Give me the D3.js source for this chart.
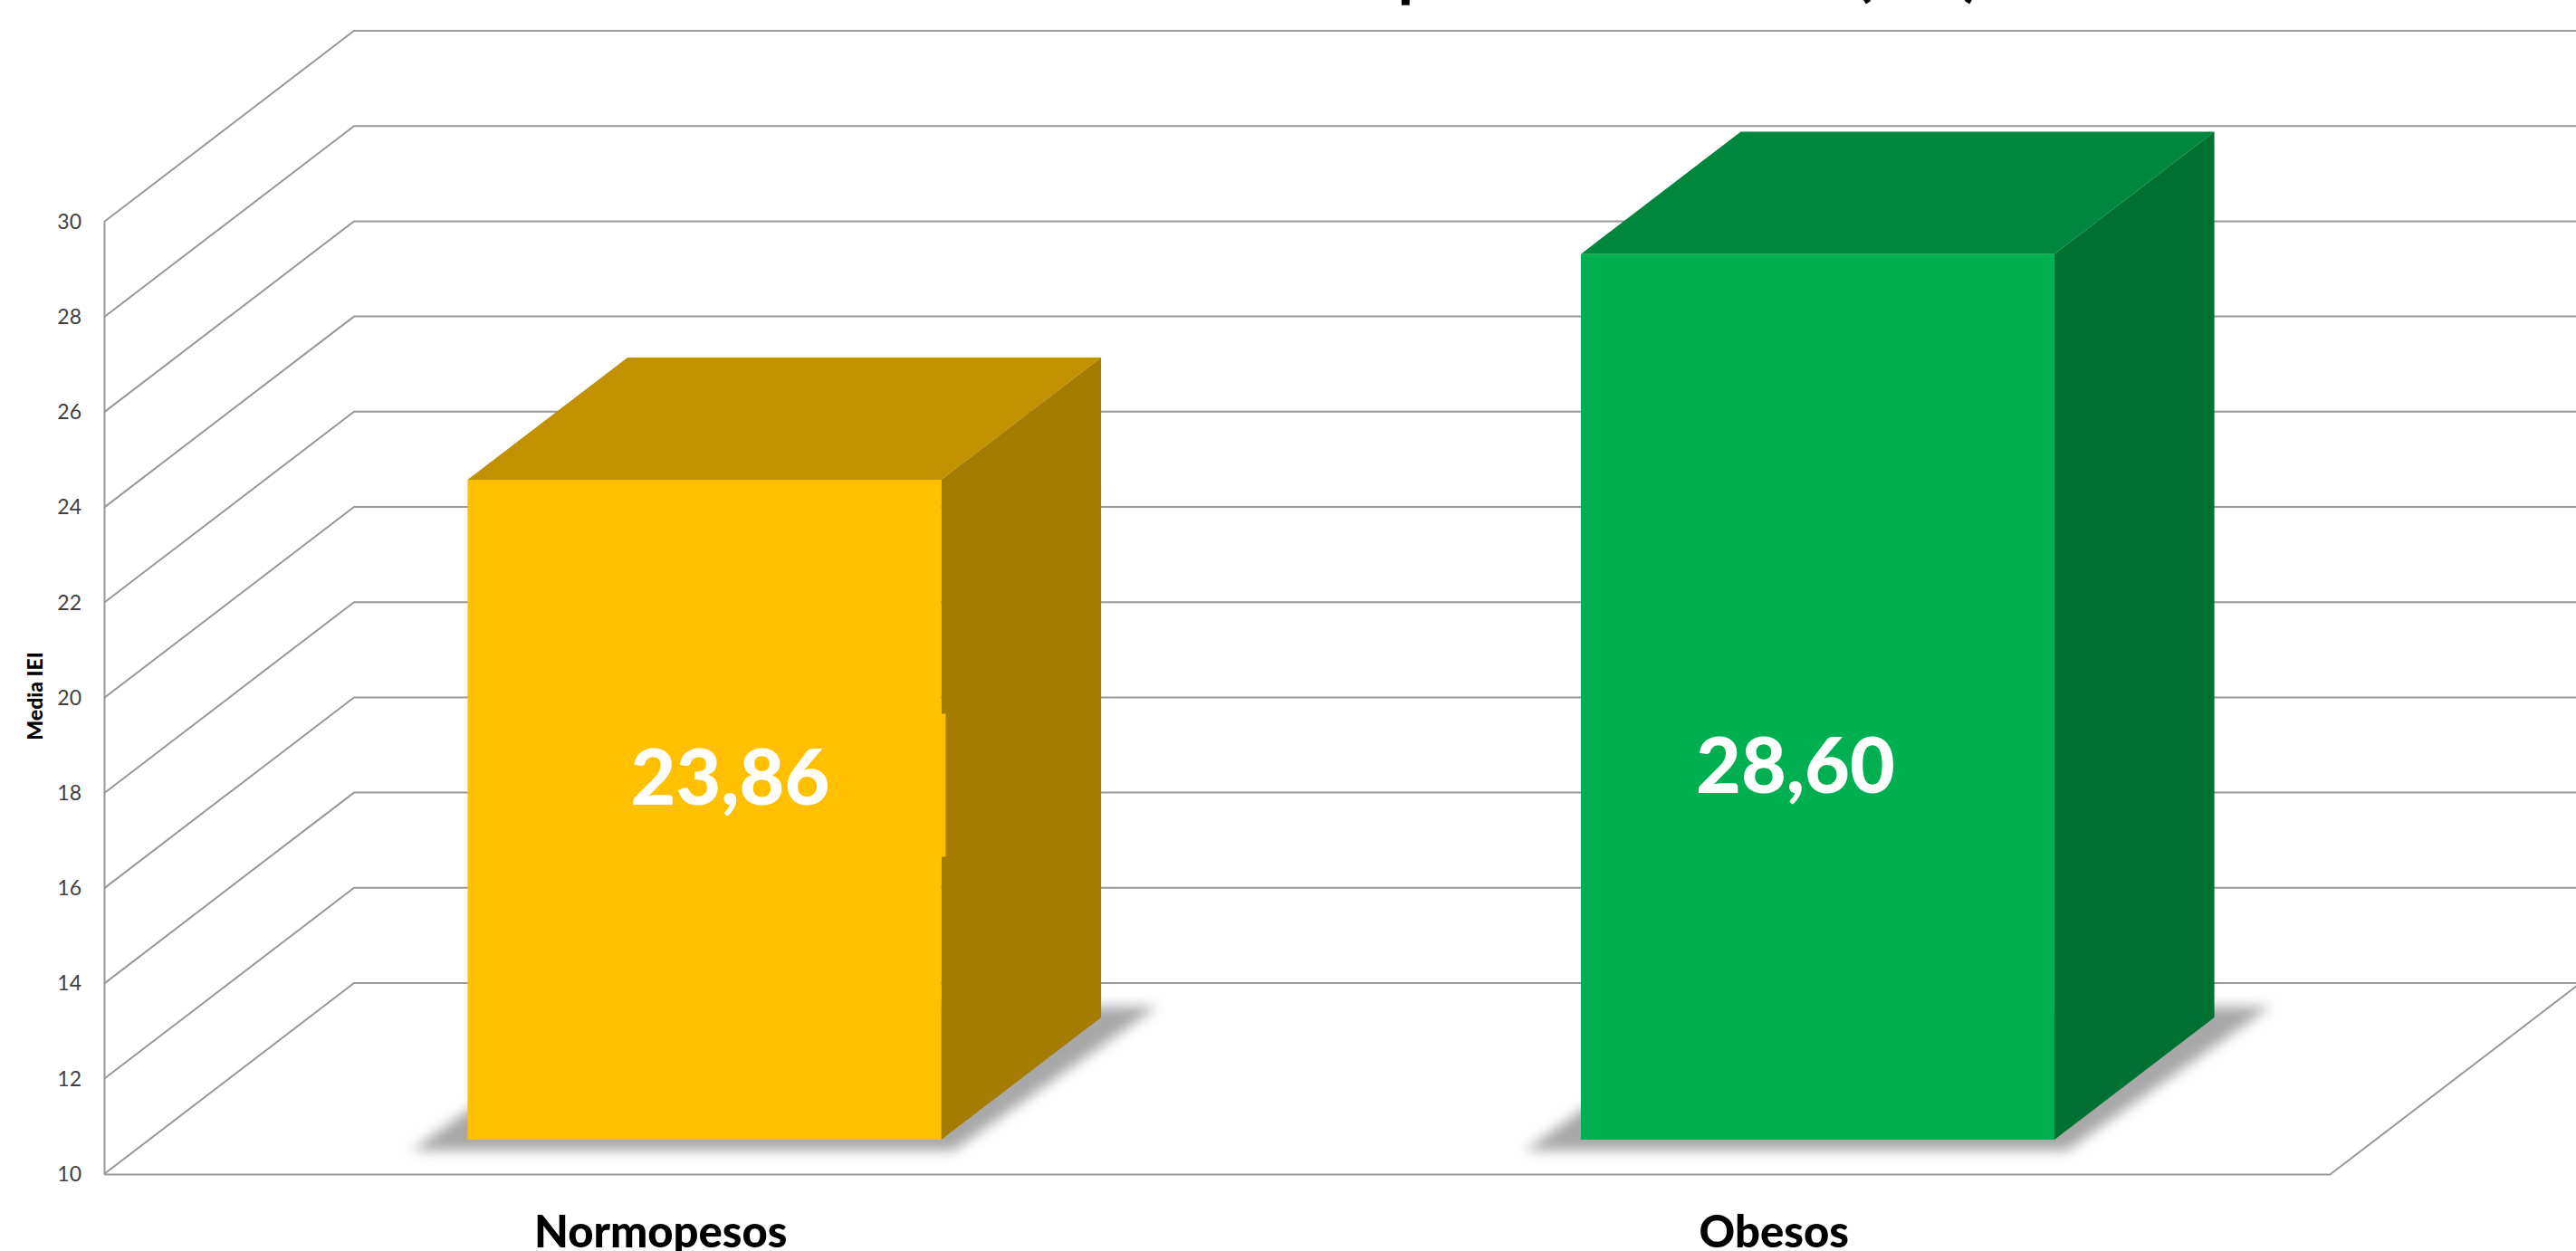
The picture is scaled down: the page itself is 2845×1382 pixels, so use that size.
<!DOCTYPE html>
<html lang="es">
<head>
<meta charset="utf-8">
<title>Media IEI</title>
<script src="https://cdn.jsdelivr.net/npm/d3@7"></script>
<style>
  html, body { margin: 0; background: #fff; overflow: hidden; }
  svg { display: block; }
  text { font-family: Lato, Carlito, sans-serif; }
</style>
</head>
<body>
<div id="chart-container"></div>
<script>
const categories = ['Normopesos', 'Obesos']
const values = [23.86, 28.6]
const valueLabels = ['23,86', '28,60']
const yTicks = [10, 12, 14, 16, 18, 20, 22, 24, 26, 28, 30]
const yTitle = 'Media IEI'

const chartWidth = 2845
const chartHeight = 1382
const plot = { left: 115, right: 2574, top: 245, bottom: 1297 }
const wallOffset = { x: 276, y: -211 }
const barDepth = { front: 0.18, back: 0.82 }
const barNudge = -1.5

const barFill = ['#ffc000', '#00b050']
const barTop = ['#c29100', '#00863d']
const barSide = ['#a47c00', '#007033']
const gridColor = '#989898'

// where the data labels were dragged to, relative to the middle of the bar front
const labelShift = [{ x: 27, y: -6 }, { x: -26, y: 106 }]

// how far the shadow sticks out past each floor corner of a bar
const shadowSpread = [[-62, 12], [14, 12], [62, -12], [-14, -12]]

const xScale = d3
  .scaleBand()
  .domain(categories)
  .range([plot.left, plot.right])
  .paddingInner(0.5746)
  .paddingOuter(0.2873)

const yScale = d3.scaleLinear().domain([10, 30]).range([plot.bottom, plot.top])

// front plane coordinates -> picture coordinates, depth 0 is front, 1 is the back wall
const project = (x, y, depth) => [x + depth * wallOffset.x, y + depth * wallOffset.y]

const toPoints = points => points.map(p => p.join(',')).join(' ')

const svg = d3
  .select('#chart-container')
  .append('svg')
  .attr('width', chartWidth)
  .attr('height', chartHeight)

const blur = svg.append('defs').append('filter').attr('id', 'shadow-blur')
  .attr('x', '-20%').attr('y', '-20%').attr('width', '140%').attr('height', '140%')
blur.append('feGaussianBlur').attr('stdDeviation', 7)

const drawGrid = () => {
  const grid = svg.append('g').attr('fill', 'none').attr('stroke', gridColor).attr('stroke-width', 2)

  grid
    .selectAll('polyline')
    .data(yTicks)
    .enter()
    .append('polyline')
    .attr('points', d => {
      const y = yScale(d)
      const corner = project(plot.left, y, 1)
      return toPoints([[plot.left, y], corner, [chartWidth, corner[1]]])
    })

  // right edge of the floor
  grid
    .append('line')
    .attr('x1', plot.right)
    .attr('y1', plot.bottom)
    .attr('x2', plot.right + wallOffset.x)
    .attr('y2', plot.bottom + wallOffset.y)
}

const drawAxes = () => {
  const yAxis = svg
    .append('g')
    .attr('transform', `translate(${plot.left},0)`)
    .call(d3.axisLeft(yScale).tickValues(yTicks).tickSize(0).tickPadding(25))

  yAxis.select('.domain').attr('stroke', gridColor).attr('stroke-width', 2)
  yAxis.selectAll('text').attr('font-size', 23).attr('font-family', 'Lato').attr('fill', '#404040')

  const xAxis = svg
    .append('g')
    .attr('transform', `translate(0,${plot.bottom})`)
    .call(d3.axisBottom(xScale).tickSize(0))

  xAxis.select('.domain').attr('stroke', gridColor).attr('stroke-width', 2)
  xAxis
    .selectAll('text')
    .attr('y', 81)
    .attr('dy', 0)
    .attr('font-size', 49)
    .attr('font-weight', 900)
    .attr('font-family', 'Lato')
    .attr('fill', '#000')

  svg
    .append('text')
    .attr('transform', 'translate(47,769) rotate(-90)')
    .attr('text-anchor', 'middle')
    .attr('font-size', 23)
    .attr('font-weight', 900)
    .text(yTitle)
}

const barFaces = (category, value) => {
  const x0 = xScale(category) + barNudge
  const x1 = x0 + xScale.bandwidth()
  const yTop = yScale(value)
  const yBase = yScale(10)
  const { front, back } = barDepth
  return {
    floor: [project(x0, yBase, front), project(x1, yBase, front), project(x1, yBase, back), project(x0, yBase, back)],
    front: [project(x0, yTop, front), project(x1, yTop, front), project(x1, yBase, front), project(x0, yBase, front)],
    top: [project(x0, yTop, front), project(x1, yTop, front), project(x1, yTop, back), project(x0, yTop, back)],
    side: [project(x1, yTop, front), project(x1, yTop, back), project(x1, yBase, back), project(x1, yBase, front)]
  }
}

const drawBars = () => {
  const bars = svg
    .selectAll('.bar')
    .data(categories)
    .enter()
    .append('g')
    .attr('class', 'bar')

  bars
    .append('polygon')
    .attr('points', (d, i) =>
      toPoints(barFaces(d, values[i]).floor.map((p, k) => [p[0] + shadowSpread[k][0], p[1] + shadowSpread[k][1]]))
    )
    .attr('fill', '#a8a8a8')
    .attr('filter', 'url(#shadow-blur)')

  bars.append('polygon').attr('points', (d, i) => toPoints(barFaces(d, values[i]).top)).attr('fill', (d, i) => barTop[i])
  bars.append('polygon').attr('points', (d, i) => toPoints(barFaces(d, values[i]).side)).attr('fill', (d, i) => barSide[i])
  bars.append('polygon').attr('points', (d, i) => toPoints(barFaces(d, values[i]).front)).attr('fill', (d, i) => barFill[i])
}

const drawLabels = () => {
  const labelX = i => project(xScale(categories[i]) + xScale.bandwidth() / 2, 0, barDepth.front)[0] + labelShift[i].x
  const labelY = i => project(0, (yScale(values[i]) + yScale(10)) / 2, barDepth.front)[1] + labelShift[i].y

  // the label box of the first bar pokes out over the side face
  svg
    .append('rect')
    .attr('x', labelX(0) - 240)
    .attr('y', labelY(0) - 100)
    .attr('width', 478)
    .attr('height', 158)
    .attr('fill', barFill[0])

  svg
    .selectAll('.value-label')
    .data(valueLabels)
    .enter()
    .append('text')
    .attr('class', 'value-label')
    .attr('x', (d, i) => labelX(i))
    .attr('y', (d, i) => labelY(i))
    .attr('text-anchor', 'middle')
    .attr('font-size', 86)
    .attr('font-weight', 900)
    .attr('fill', '#fff')
    .text(d => d)
}

// only the descenders of the title fit in the picture
const drawTitle = () => {
  svg
    .selectAll('.title-part')
    .data(['p', '(IEI)'])
    .enter()
    .append('text')
    .attr('class', 'title-part')
    .attr('x', (d, i) => [1566, 2120][i])
    .attr('y', -7)
    .attr('text-anchor', 'middle')
    .attr('font-size', 72)
    .attr('font-weight', 700)
    .attr('letter-spacing', 4)
    .text(d => d)
}

drawGrid()
drawBars()
drawAxes()
drawLabels()
drawTitle()
</script>
</body>
</html>
